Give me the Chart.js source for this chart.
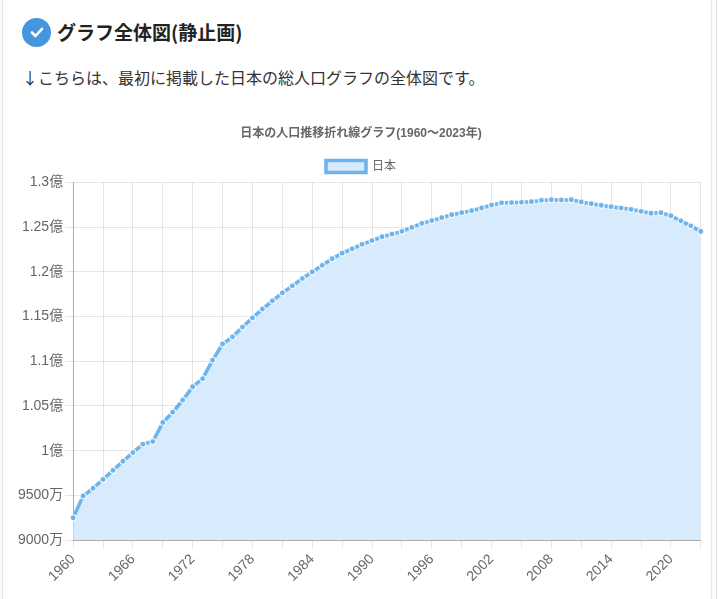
<!DOCTYPE html>
<html lang="ja">
<head>
<meta charset="utf-8">
<title>日本の人口推移</title>
<script src="https://cdn.jsdelivr.net/npm/chart.js@4.4.1/dist/chart.umd.min.js"></script>
<style>
  html, body { margin: 0; padding: 0; background: #fff; }
  body { width: 720px; height: 599px; overflow: hidden; position: relative;
         font-family: "Noto Sans CJK JP", "Liberation Sans", Arial, sans-serif; }
  .card { position: absolute; left: 2px; top: -10px; width: 708px; height: 620px;
          border-left: 1px solid #e6e6e6; border-right: 1px solid #e6e6e6;
          box-shadow: 0 0 4px rgba(0,0,0,0.06); }
  .side { position: absolute; left: 716px; top: 0; width: 10px; height: 599px;
          border-left: 1px solid #e4e4e4; }
  h2 { position: absolute; left: 22px; top: 15px; margin: 0; font-size: 19px; font-weight: bold;
       color: #222; line-height: 34px; display: flex; align-items: center; }
  h2 .ic { width: 29px; height: 29px; border-radius: 50%; background: #4596dc; margin-right: 6px;
           display: inline-flex; align-items: center; justify-content: center; }
  p.lead { position: absolute; left: 22px; top: 64px; margin: 0; font-size: 16px; color: #333; line-height: 26px; }
  #wrap { position: absolute; left: 16px; top: 118px; width: 690px; height: 470px; }
</style>
</head>
<body>
<div class="card"></div>
<div class="side"></div>
<h2><span class="ic"><svg width="16" height="16" viewBox="0 0 16 16"><path d="M3 8.5 L6.5 12 L13 4.8" fill="none" stroke="#fff" stroke-width="2.6" stroke-linecap="round" stroke-linejoin="round"/></svg></span>グラフ全体図(静止画)</h2>
<p class="lead">↓こちらは、最初に掲載した日本の総人口グラフの全体図です。</p>
<div id="wrap"><canvas id="popChart"></canvas></div>
<script>
// 年（1960〜2023）
const years = [];
for (let y = 1960; y <= 2023; y++) years.push(String(y));

// 日本の総人口（百万人）
const popMillions = [
  92.49, 94.93, 95.80, 96.79, 97.80, 98.82, 99.79, 100.73, 101.02, 103.15,
  104.30, 105.66, 107.15, 108.05, 110.12, 111.93, 112.73, 113.82, 114.86, 115.83,
  116.76, 117.64, 118.43, 119.25, 119.99, 120.73, 121.47, 122.09, 122.57, 123.08,
  123.50, 123.92, 124.22, 124.53, 124.96, 125.42, 125.73, 126.05, 126.39, 126.61,
  126.84, 127.14, 127.46, 127.72, 127.74, 127.77, 127.84, 127.99, 128.06, 128.04,
  128.07, 127.81, 127.62, 127.44, 127.28, 127.13, 126.99, 126.77, 126.55, 126.62,
  126.27, 125.70, 125.14, 124.51
];

const population = popMillions.map(v => Math.round(v * 1e6));

const yMin = 90000000;
const yMax = 130000000;
const yStep = 5000000;

const lineColor = '#6db3ec';
const fillColor = '#d7ebfc';

function yenLabel(v) {
  if (v >= 100000000) return (v / 100000000) + '億';
  return (v / 10000) + '万';
}

const ctx = document.getElementById('popChart');
new Chart(ctx, {
  type: 'line',
  data: {
    labels: years,
    datasets: [{
      label: '日本',
      data: population,
      borderColor: lineColor,
      backgroundColor: fillColor,
      borderWidth: 3.5,
      fill: true,
      tension: 0,
      pointRadius: 3,
      pointBackgroundColor: lineColor,
      pointBorderColor: 'rgba(255,255,255,0.85)',
      pointBorderWidth: 1.2
    }]
  },
  options: {
    responsive: true,
    maintainAspectRatio: false,
    animation: false,
    layout: { padding: 0 },
    plugins: {
      title: {
        display: true,
        text: '日本の人口推移折れ線グラフ(1960〜2023年)',
        color: '#666',
        font: { size: 12, weight: 'bold', family: 'Arial, "Noto Sans CJK JP", sans-serif' },
        padding: { top: 8, bottom: 10 }
      },
      legend: {
        labels: {
          color: '#666',
          font: { size: 12, family: 'Arial, "Noto Sans CJK JP", sans-serif' },
          boxWidth: 40,
          boxHeight: 12
        }
      },
      tooltip: { enabled: false }
    },
    scales: {
      x: {
        grid: { color: 'rgba(0,0,0,0.1)', tickLength: 8 },
        border: { color: 'rgba(0,0,0,0.25)' },
        afterFit: s => { s.paddingRight = 4; },
        ticks: {
          autoSkip: false,
          maxRotation: 45,
          minRotation: 45,
          color: '#666',
          font: { size: 14, family: 'Arial, sans-serif' },
          callback: function (val, i) {
            if (i % 3 !== 0) return null;
            return i % 6 === 0 ? this.getLabelForValue(val) : '';
          }
        }
      },
      y: {
        min: yMin,
        max: yMax,
        grid: { color: 'rgba(0,0,0,0.1)', tickLength: 8 },
        border: { color: 'rgba(0,0,0,0.25)' },
        ticks: {
          stepSize: yStep,
          color: '#666',
          padding: 2,
          font: { size: 14, family: 'Arial, "Noto Sans CJK JP", sans-serif' },
          callback: v => yenLabel(v)
        }
      }
    }
  }
});
</script>
</body>
</html>
